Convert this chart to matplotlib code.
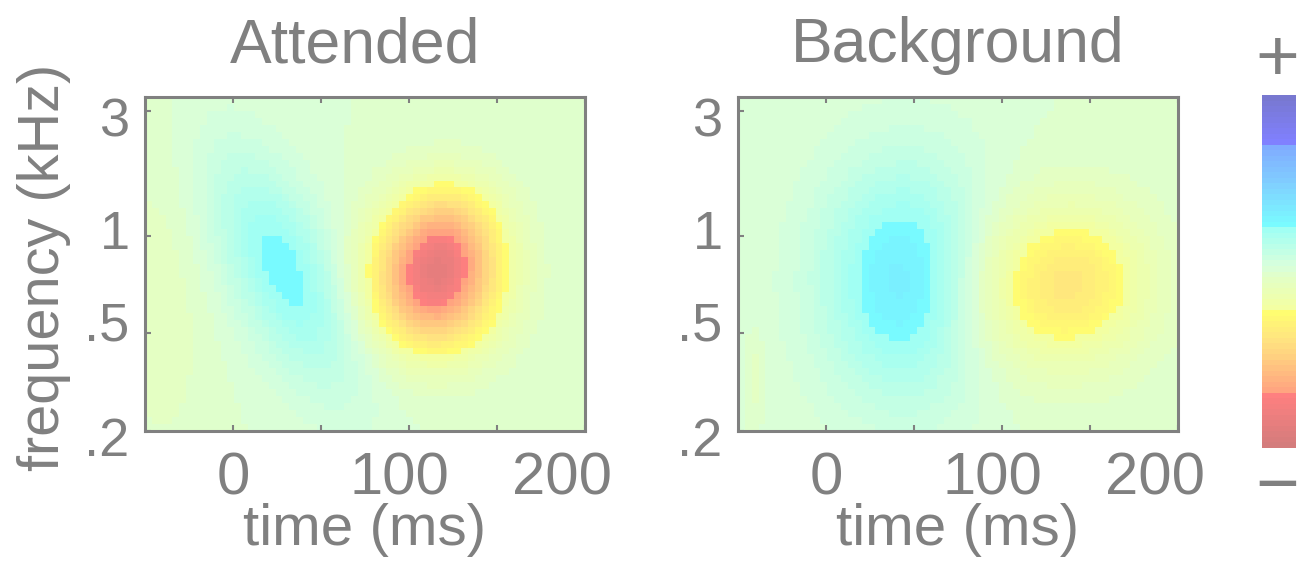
import numpy as np
import matplotlib
matplotlib.use("Agg")
import matplotlib.pyplot as plt
from matplotlib.colors import LinearSegmentedColormap, ListedColormap
from matplotlib.transforms import ScaledTranslation

plt.rcParams['font.family'] = ['Liberation Sans', 'DejaVu Sans']
GRAY = '#808080'

# ---- axis ranges -------------------------------------------------------
time_lim = (-50.0, 200.0)   # ms
chan_lim = (0.0, 1.0)       # normalized cochlear channel (low -> high freq)
n_time, n_chan = 64, 48

time_ticks = [0, 50, 100, 150, 200]
time_labels = ['0', '', '100', '', '200']
time_label_dx = [0, 0, -10, 0, -23]          # px nudges of tick labels

freq_ticks = [0.0, 0.293, 0.584, 0.958]
freq_labels = ['.2', '.5', '1', '3']
freq_label_dy = [-6, 12, 6, -6]             # px nudges of tick labels

# ---- STRF components: amplitude, centre (ms), centre (channel),
#      width (ms), width (channel), time shear (ms per channel unit) -------
att_amp = [0.28, -0.72, -0.30, -0.05]
att_t = [29.0, 114.0, 122.0, -40.0]
att_c = [0.48, 0.44, 0.60, 0.40]
att_wt = [23.0, 25.0, 22.0, 20.0]
att_wc = [0.24, 0.14, 0.12, 0.40]
att_shear = [-73.0, 0.0, 0.0, 0.0]

bg_amp = [0.35, -0.30, -0.10, -0.06]
bg_t = [46.0, 124.0, 150.0, -40.0]
bg_c = [0.45, 0.43, 0.47, 0.17]
bg_wt = [34.0, 38.0, 24.0, 3.0]
bg_wc = [0.25, 0.17, 0.15, 0.08]
bg_shear = [0.0, 0.0, 0.0, 0.0]

# ---- colour scale, from "-" (bottom) to "+" (top) -----------------------
cbar_pos = [0.000, 0.145, 0.146, 0.235, 0.306, 0.387, 0.389, 0.476,
            0.518, 0.622, 0.624, 0.750, 0.872, 0.874, 1.000]
cbar_col = ['#D47C7C', '#FF8080', '#FFA080', '#FFC880', '#FFE480',
            '#FFFF70', '#F4FFA0', '#E4FFC4', '#D8FFDC', '#A0FFF4',
            '#78FFFF', '#80D0FF', '#80A8FF', '#8080FF', '#7878D0']
n_colors = 64

smooth = LinearSegmentedColormap.from_list('strf', list(zip(cbar_pos, cbar_col)))
cmap = ListedColormap(smooth(np.linspace(0, 1, n_colors)))


def strf(amp, tc, cc, wt, wc, shear):
    te = np.linspace(time_lim[0], time_lim[1], n_time + 1)
    ce = np.linspace(chan_lim[0], chan_lim[1], n_chan + 1)
    T, C = np.meshgrid((te[:-1] + te[1:]) / 2, (ce[:-1] + ce[1:]) / 2)
    Z = np.zeros_like(T)
    for a, t0, c0, st, sc, sh in zip(amp, tc, cc, wt, wc, shear):
        u = T - t0 - sh * (C - c0)
        Z += a * np.exp(-0.5 * ((u / st) ** 2 + ((C - c0) / sc) ** 2))
    return Z


fig = plt.figure(figsize=(12.99, 5.62), dpi=100)

panels = [
    ('Attended', 0.477, strf(att_amp, att_t, att_c, att_wt, att_wc, att_shear),
     [145 / 1299, 131 / 562, 440 / 1299, 334 / 562]),
    ('Background', 0.5, strf(bg_amp, bg_t, bg_c, bg_wt, bg_wc, bg_shear),
     [738 / 1299, 131 / 562, 440 / 1299, 334 / 562]),
]

im = None
for title, title_x, Z, rect in panels:
    ax = fig.add_axes(rect)
    im = ax.imshow(Z, origin='lower', aspect='auto', cmap=cmap, vmin=-1, vmax=1,
                   interpolation='nearest',
                   extent=[time_lim[0], time_lim[1], chan_lim[0], chan_lim[1]])
    ax.set_xlim(*time_lim)
    ax.set_ylim(*chan_lim)
    for sp in ax.spines.values():
        sp.set_color(GRAY)
        sp.set_linewidth(2.2)
    ax.set_xticks(time_ticks)
    ax.set_xticklabels(time_labels)
    ax.set_yticks(freq_ticks)
    ax.set_yticklabels(freq_labels)
    ax.tick_params(axis='x', direction='in', length=4, width=1.5, colors=GRAY,
                   top=True, labelsize=43, pad=15, labelcolor=GRAY)
    ax.tick_params(axis='y', direction='in', length=4, width=1.5, colors=GRAY,
                   right=False, labelsize=39, pad=11, labelcolor=GRAY)
    for lab, dx in zip(ax.get_xticklabels(), time_label_dx):
        lab.set_transform(lab.get_transform() +
                          ScaledTranslation(dx / 100, 0, fig.dpi_scale_trans))
    for lab, dy in zip(ax.get_yticklabels(), freq_label_dy):
        lab.set_transform(lab.get_transform() +
                          ScaledTranslation(0, dy / 100, fig.dpi_scale_trans))
    ax.set_title(title, fontsize=45, color=GRAY, pad=25, x=title_x)
    ax.text(0.5, -0.341, 'time (ms)', transform=ax.transAxes, ha='center',
            va='baseline', fontsize=42, color=GRAY)

fig.text(44 / 1299, 1 - 267 / 562, 'frequency (kHz)', rotation=90,
         ha='center', va='center', fontsize=41.5, color=GRAY)

cax = fig.add_axes([1262 / 1299, 114 / 562, 34 / 1299, 353 / 562])
cb = fig.colorbar(im, cax=cax)
cb.outline.set_visible(False)
cb.set_ticks([])
fig.text(1277 / 1299, 1 - 62 / 562, '+', ha='center', va='center',
         fontsize=54, color=GRAY)
fig.text(1277 / 1299, 1 - 488 / 562, '\u2212', ha='center', va='center',
         fontsize=54, color=GRAY)

fig.savefig('out.png', dpi=100)
